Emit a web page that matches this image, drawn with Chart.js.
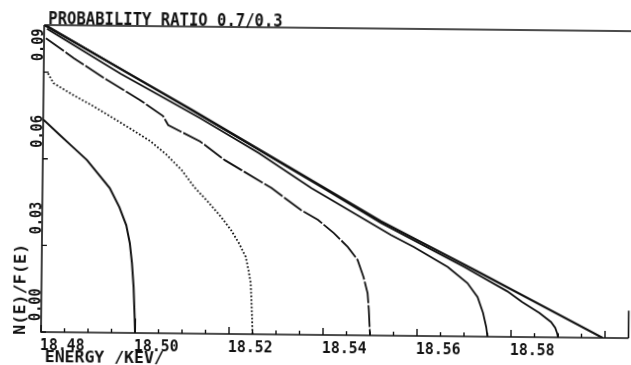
<!DOCTYPE html>
<html>
<head>
<meta charset="utf-8">
<script src="https://cdn.jsdelivr.net/npm/chart.js@4.4.1/dist/chart.umd.min.js"></script>
<style>
  html, body { margin: 0; padding: 0; background: #fff; overflow: hidden; }
  /* the scanned original sits about 0.6 degrees clockwise */
  #wrap { width: 631px; height: 365px; transform-origin: 41px 332px; transform: rotate(0.6deg); }
</style>
</head>
<body>
<div id="wrap"><canvas id="kurie" width="631" height="365"></canvas></div>
<script>
/* ============================================================
   DATA
============================================================ */
const TITLE = "PROBABILITY RATIO 0.7/0.3";
const X_TITLE = "ENERGY /KEV/";
const Y_TITLE = "N(E)/F(E)";

const xMajorTicks = [18.48, 18.50, 18.52, 18.54, 18.56, 18.58, 18.60];
const xTickLabels = ["18.48", "18.50", "18.52", "18.54", "18.56", "18.58", ""];
const yTicks = [0.0, 0.03, 0.06, 0.09];
const yTickLabels = ["0.00", "0.03", "0.06", "0.09"];

// curve ending at 18.500
const e100 = [18.4800, 18.4836, 18.4864, 18.4894, 18.4917, 18.4943, 18.4964, 18.4979, 18.4987, 18.4992, 18.4996, 18.4999, 18.5000];
const n100 = [0.0736, 0.0682, 0.0641, 0.0597, 0.0552, 0.0501, 0.0435, 0.0373, 0.0311, 0.0242, 0.0159, 0.0050, 0.0000];

// dotted curve ending at 18.525
const e75 = [18.4809, 18.4821, 18.4864, 18.4906, 18.4949, 18.4991, 18.5028, 18.5062, 18.5096, 18.5123, 18.5153, 18.5181, 18.5202, 18.5219, 18.5234, 18.5240, 18.5245, 18.5247, 18.5249, 18.5250];
const n75 = [0.0896, 0.0862, 0.0821, 0.0784, 0.0743, 0.0702, 0.0665, 0.0620, 0.0565, 0.0507, 0.0456, 0.0404, 0.0360, 0.0315, 0.0267, 0.0222, 0.0177, 0.0118, 0.0049, 0.0000];

// long-dashed curve ending at 18.550
const e50 = [18.4804, 18.4864, 18.4936, 18.5006, 18.5055, 18.5066, 18.5134, 18.5187, 18.5287, 18.5351, 18.5387, 18.5421, 18.5451, 18.5472, 18.5485, 18.5494, 18.5497, 18.5500];
const n50 = [0.1017, 0.0949, 0.0874, 0.0806, 0.0752, 0.0721, 0.0666, 0.0602, 0.0507, 0.0431, 0.0398, 0.0353, 0.0305, 0.0261, 0.0202, 0.0146, 0.0088, 0.0000];

// curve ending at 18.575
const e25 = [18.4806, 18.4964, 18.5134, 18.5260, 18.5372, 18.5543, 18.5591, 18.5664, 18.5706, 18.5728, 18.5740, 18.5747, 18.5750];
const n25 = [0.1050, 0.0897, 0.0746, 0.0627, 0.0508, 0.0348, 0.0308, 0.0240, 0.0185, 0.0137, 0.0082, 0.0034, 0.0000];

// curve ending at 18.590
const e10 = [18.4806, 18.5117, 18.5400, 18.5521, 18.5700, 18.5791, 18.5823, 18.5860, 18.5885, 18.5894, 18.5898, 18.5900];
const n10 = [0.1060, 0.0772, 0.0506, 0.0390, 0.0240, 0.0158, 0.0121, 0.0084, 0.0053, 0.0033, 0.0015, 0.0000];

// straight line ending at 18.600
const e0 = [18.4800, 18.5117, 18.5400, 18.5521, 18.5734, 18.5995];
const n0 = [0.1063, 0.0774, 0.0509, 0.0396, 0.0220, 0.0000];

/* ============================================================
   UTILS
============================================================ */
const INK = "#111";
const FONT = '"DejaVu Sans Mono", "Liberation Mono", monospace';
const pts = (xs, ys) => xs.map((x, i) => ({ x, y: ys[i] }));

const curve = (xs, ys, extra) => ({
  data: pts(xs, ys),
  borderColor: INK,
  borderWidth: 1.8,
  pointRadius: 0,
  tension: 0,
  fill: false,
  ...extra,
});

// stretched plotter-like lettering
function plotText(ctx, str, x, y, size, sx, rot) {
  ctx.save();
  ctx.translate(x, y);
  if (rot) ctx.rotate(rot);
  ctx.scale(sx, 1);
  ctx.font = `bold ${size}px ${FONT}`;
  ctx.textAlign = "left";
  ctx.textBaseline = "alphabetic";
  ctx.fillStyle = INK;
  ctx.fillText(str, 0, 0);
  ctx.restore();
}

/* ============================================================
   FRAME, TICKS AND LABELS
============================================================ */
const plotterAxes = {
  id: "plotterAxes",
  afterDraw(chart) {
    const { ctx, chartArea: a, scales } = chart;
    const sx = scales.x, sy = scales.y;
    ctx.save();
    ctx.strokeStyle = INK;
    ctx.lineWidth = 1.6;

    ctx.beginPath();
    ctx.moveTo(a.left, a.top);
    ctx.lineTo(chart.width, a.top);
    ctx.moveTo(a.left, a.top);
    ctx.lineTo(a.left, a.bottom);
    ctx.lineTo(a.right, a.bottom);
    // only the lower stub of the right border survives in the scan
    ctx.moveTo(a.right, a.bottom);
    ctx.lineTo(a.right, sy.getPixelForValue(0.0095));
    ctx.stroke();

    // x ticks pointing inward, minor every 0.005
    ctx.lineWidth = 1.4;
    ctx.beginPath();
    for (let k = 0; k <= 24; k++) {
      const v = 18.48 + k * 0.005;
      const px = sx.getPixelForValue(v);
      const len = k % 4 === 0 ? 7 : 4;
      ctx.moveTo(px, a.bottom);
      ctx.lineTo(px, a.bottom - len);
    }
    yTicks.forEach((v) => {
      const py = sy.getPixelForValue(v);
      ctx.moveTo(a.left, py);
      ctx.lineTo(a.left + 5, py);
    });
    ctx.stroke();
    ctx.restore();

    // x tick labels start at their tick
    xMajorTicks.forEach((v, i) => {
      if (!xTickLabels[i]) return;
      plotText(ctx, xTickLabels[i], sx.getPixelForValue(v) - 1, a.bottom + 18, 16.5, 0.9);
    });
    plotText(ctx, X_TITLE, a.left + 4, a.bottom + 30, 16, 1.03);

    // y tick labels read upward, sitting just above their tick
    yTicks.forEach((v, i) => {
      plotText(ctx, yTickLabels[i], a.left - 1, sy.getPixelForValue(v) - 11, 16.5, 0.82, -Math.PI / 2);
    });
    plotText(ctx, Y_TITLE, 25, a.bottom + 3, 15, 1.12, -Math.PI / 2);

    plotText(ctx, TITLE, a.left + 4, a.top - 1.5, 17.5, 0.89);
  },
};

/* ============================================================
   CHART
============================================================ */
new Chart(document.getElementById("kurie"), {
  type: "line",
  data: {
    datasets: [
      curve(e100, n100, { borderWidth: 2 }),
      curve(e75, n75, { borderDash: [1.7, 2], borderWidth: 1.8 }),
      curve(e50, n50, { borderDash: [22, 2] }),
      curve(e25, n25),
      curve(e10, n10),
      curve(e0, n0, { borderWidth: 2.1 }),
    ],
  },
  options: {
    responsive: false,
    animation: false,
    layout: { padding: { left: 41, right: 2.5, top: 25, bottom: 33 } },
    plugins: { legend: { display: false }, tooltip: { enabled: false } },
    scales: {
      x: { type: "linear", min: 18.48, max: 18.605, display: false },
      y: { type: "linear", min: 0, max: 0.1063, display: false },
    },
  },
  plugins: [plotterAxes],
});
</script>
</body>
</html>
